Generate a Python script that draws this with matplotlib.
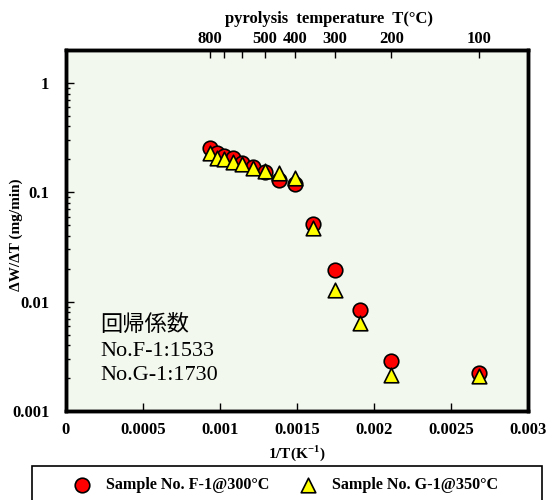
import numpy as np
import matplotlib
matplotlib.use("Agg")
import matplotlib.pyplot as plt
from matplotlib.patches import Rectangle

# pyrolysis temperatures (degC) of the measured points
temp_c = [800, 750, 700, 650, 600, 550, 500, 450, 400, 350, 300, 250, 200, 100]
# dW/dT (mg/min)
rate_f1 = [0.254, 0.231, 0.215, 0.204, 0.187, 0.169, 0.153, 0.130, 0.118,
           0.0517, 0.0194, 0.00845, 0.00288, 0.00222]
rate_g1 = [0.228, 0.206, 0.201, 0.191, 0.183, 0.165, 0.157, 0.149, 0.136,
           0.0468, 0.0127, 0.00638, 0.00214, 0.00211]

top_ticks_c = [800, 700, 600, 500, 400, 300, 200, 100]
top_labels = ["800", "", "", "500", "400", "300", "200", "100"]

label_f1 = "Sample No. F-1@300°C"
label_g1 = "Sample No. G-1@350°C"
note_lines = ["回帰係数", "No.F-1:1533", "No.G-1:1730"]

inv_t = 1.0 / (np.array(temp_c) + 273.15)

serif = ["Liberation Serif", "DejaVu Serif"]
plt.rcParams["font.family"] = serif
plt.rcParams["font.weight"] = "bold"

fig = plt.figure(figsize=(5.53, 5.0), dpi=100)
ax = fig.add_axes([66 / 553, 1 - 411 / 500, (528 - 66) / 553, (411 - 50) / 500])
ax.set_facecolor("#f3f8ee")

ax.scatter(inv_t, rate_f1, s=110, marker="o", color="#ff0000", edgecolors="black",
           linewidths=1.2, zorder=3, label=label_f1)
ax.scatter(inv_t, rate_g1, s=110, marker="^", color="#ffff00", edgecolors="black",
           linewidths=1.2, zorder=4, label=label_g1)

ax.set_yscale("log")
ax.set_xlim(0, 0.003)
ax.set_ylim(0.001, 2)
ax.set_xticks([0, 0.0005, 0.001, 0.0015, 0.002, 0.0025, 0.003])
ax.set_xticklabels(["0", "0.0005", "0.001", "0.0015", "0.002", "0.0025", "0.003"])
ax.set_yticks([0.001, 0.01, 0.1, 1])
ax.set_yticklabels(["0.001", "0.01", "0.1", "1"])
ax.tick_params(axis="both", which="both", direction="in", labelsize=12, width=1)
ax.tick_params(axis="y", which="major", length=6, pad=12)
ax.tick_params(axis="y", which="minor", length=3)
ax.tick_params(axis="x", which="major", length=6, pad=8)
for sp in ax.spines.values():
    sp.set_linewidth(2.5)

ax.set_xlabel("1/T(K$^{\\mathregular{-1}}$)", fontsize=11, fontweight="bold", labelpad=4)
ax.set_ylabel("ΔW/ΔT (mg/min)", fontsize=11, fontweight="bold")
ax.yaxis.set_label_coords(-0.093, 0.487)

ax2 = ax.twiny()
ax2.set_xlim(ax.get_xlim())
ax2.set_xticks(1.0 / (np.array(top_ticks_c) + 273.15))
ax2.set_xticklabels(top_labels)
ax2.tick_params(axis="x", direction="in", length=6, width=1, labelsize=12, pad=2)
ax2.set_xlabel("pyrolysis  temperature  T(°C)", fontsize=12, fontweight="bold")
ax2.xaxis.set_label_coords(0.57, 1.075)
for sp in ax2.spines.values():
    sp.set_linewidth(2.5)

ax.text(0.075, 0.072, "\n".join(note_lines), transform=ax.transAxes, fontsize=16,
        fontweight="normal", linespacing=1.38, va="bottom", ha="left",
        family=["Liberation Serif", "Noto Sans CJK JP"])

# legend box below the plot
fig.patches.append(Rectangle((32 / 553, -0.01), 510 / 553, (500 - 466) / 500 + 0.01,
                             transform=fig.transFigure, facecolor="white",
                             edgecolor="black", linewidth=1.2))
leg = fig.legend(loc="center", bbox_to_anchor=(282 / 553, 1 - 485 / 500), ncol=2,
                 frameon=False, fontsize=11.6, handletextpad=0.5, columnspacing=1.4,
                 borderaxespad=0)

fig.savefig("out.png", dpi=100)
